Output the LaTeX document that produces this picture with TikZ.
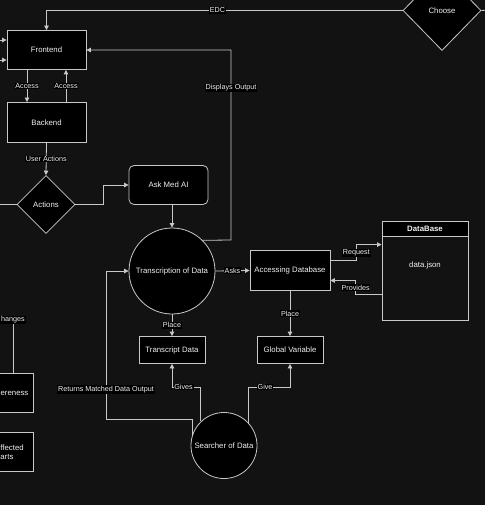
\documentclass[tikz,border=0pt]{standalone}
\usepackage{fontspec}
\setmainfont{Liberation Sans}
\usetikzlibrary{shapes.geometric,arrows.meta,calc}
\definecolor{bgdark}{HTML}{121212}
\definecolor{edgegray}{HTML}{C8C8C8}
\definecolor{txtwhite}{HTML}{F0F0F0}
\begin{document}
\begin{tikzpicture}[x=1pt, y=-1pt,
        >={Triangle[width=4.5pt,length=4.5pt]},
        line/.style={draw=edgegray, line width=0.8pt},
        box/.style={draw=edgegray, fill=black, text=txtwhite, line width=0.8pt,
            font=\fontsize{7.8}{9}\selectfont, inner sep=1pt},
        lbl/.style={fill=black, text=txtwhite, font=\fontsize{7.2}{8}\selectfont, inner sep=0.8pt}]

            \useasboundingbox (0,0) rectangle (485,505);
            \clip (0,0) rectangle (485,505);
            \fill[bgdark] (0,0) rectangle (485,505);

            % nodes
            \node[box, minimum width=79, minimum height=39] (front) at (46.5, 50) {Frontend};
            \node[box, minimum width=79, minimum height=40] (back) at (46.5, 122.5) {Backend};
            \node[box, diamond, minimum width=78, minimum height=80, inner sep=0] (choose) at (442, 10.5) {Choose};
            \node[box, diamond, minimum width=58, minimum height=58, inner sep=0] (actions) at (46, 204.5) {Actions};
            \node[box, rounded corners=5pt, minimum width=79, minimum height=39] (askai) at (168.5, 185) {Ask Med AI};
            \node[box, circle, minimum size=86, inner sep=0] (trans) at (172, 271) {Transcription of Data};
            \node[box, minimum width=80, minimum height=40] (accdb) at (290, 270.5) {Accessing Database};
            \node[box, minimum width=86, minimum height=15, font=\fontsize{7.8}{9}\selectfont\bfseries] (dbhead) at (425, 228.5) {DataBase};
            \node[box, fill=none, minimum width=86, minimum height=84] (dbbody) at (425, 278) {};
            \node[text=txtwhite, font=\fontsize{7.8}{9}\selectfont] (dbtext) at (425, 265.5) {data.json};
            \node[box, minimum width=66, minimum height=27] (tdata) at (172, 350) {Transcript Data};
            \node[box, minimum width=66, minimum height=27] (gvar) at (290, 350) {Global Variable};
            \node[box, circle, minimum size=66, inner sep=0] (search) at (224, 445.5) {Searcher of Data};
            \node[box, anchor=west, minimum height=39, inner xsep=5, text width=29, align=right] (aware) at (-6, 393) {ereness};
            \node[box, anchor=west, minimum height=39, inner xsep=8, text width=25, align=left] (affect) at (-8, 452) {ffected\\arts};

            % loose ends
            \coordinate (edcout) at (490, 10);
            \coordinate (fin1) at (-5, 40);
            \coordinate (fin2) at (-5, 60);
            \coordinate (actout) at (-5, 204.5);
            \coordinate (dispc) at (231, 240);
            \coordinate (givey) at (0, 387);
            \coordinate (retc) at (106, 419);
            \coordinate (chgc) at (13, 320);

            % connectors
            \draw[line, ->] (choose.west) -| node[lbl, pos=0.26] {EDC} (front.north);
            \draw[line] (choose.east) -- (edcout);
            \draw[line, ->] (fin1) -- (fin1 -| front.west);
            \draw[line, ->] (fin2) -- (fin2 -| front.west);
            \draw[line, ->] ([xshift=-19.5pt]front.south) -- node[lbl] {Access} ([xshift=-19.5pt]back.north);
            \draw[line, ->] ([xshift=19.5pt]back.north) -- node[lbl] {Access} ([xshift=19.5pt]front.south);
            \draw[line, ->] (back.south) -- node[lbl] {User Actions} (actions.north);
            \draw[line] (actions.west) -- (actout);
            \draw[line, ->] (actions.east) -- ++(28, 0) |- (askai.west);
            \draw[line, ->] (askai.south -| trans.north) -- (trans.north);
            \draw[line, ->] (trans.45) -- (dispc) |- node[lbl, pos=0.4] {Displays Output} (front.east);
            \draw[line, ->] (trans.east) -- node[lbl] {Asks} (accdb.west);
            \draw[line, ->] ([yshift=10pt]accdb.east) -- ++(26, 0) |- node[lbl, pos=0.25] {Request} ($(dbbody.north west)+(0, 9)$);
            \draw[line, ->] ($(dbbody.north west)+(0, 59)$) -- ++(-26, 0) |- node[lbl, pos=0.25] {Provides} ([yshift=-10pt]accdb.east);
            \draw[line, ->] (accdb.south) -- node[lbl] {Place} (gvar.north);
            \draw[line, ->] (trans.south) -- node[lbl] {Place} (tdata.north);
            \draw[line, ->] (search.134) -- (search.134 |- givey) -| node[lbl, pos=0.3] {Gives} (tdata.south);
            \draw[line, ->] (search.43) -- (search.43 |- givey) -| node[lbl, pos=0.2] {Give} (gvar.south);
            \draw[line, ->] (search.163) |- (retc) |- node[lbl, pos=0.1] {Returns Matched Data Output} (trans.west);
            \draw[line] (chgc) node[lbl] {hanges} -- (chgc |- aware.north);
        \end{tikzpicture}
\end{document}
